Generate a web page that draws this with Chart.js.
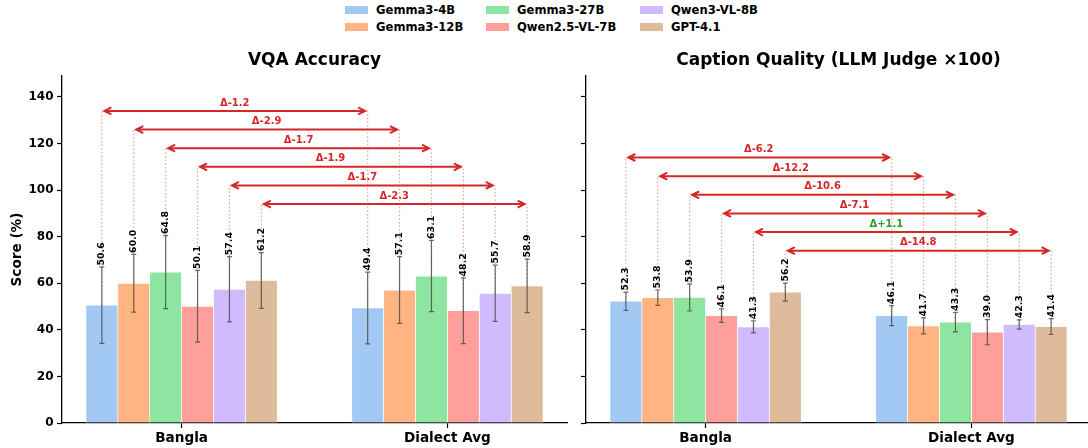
<!DOCTYPE html>
<html>
<head>
<meta charset="utf-8">
<script src="https://cdn.jsdelivr.net/npm/chart.js@4.4.1/dist/chart.umd.min.js"></script>
<style>
  body { margin: 0; background: #fff; width: 1088px; height: 448px; overflow: hidden; position: relative; font-family: "DejaVu Sans", sans-serif; }
  .item { position: absolute; display: flex; align-items: center; font-weight: bold; font-size: 11.6px; color: #000; white-space: nowrap; }
  .sw { width: 23px; height: 8px; margin-right: 8px; }
  .panel { position: absolute; top: 0; height: 448px; }
</style>
</head>
<body>
<div id="legend"></div>
<div class="panel" style="left:0;width:575px"><canvas id="chart-vqa"></canvas></div>
<div class="panel" style="left:575px;width:516px"><canvas id="chart-caption"></canvas></div>

<script>
const models = ['Gemma3-4B', 'Gemma3-12B', 'Gemma3-27B', 'Qwen2.5-VL-7B', 'Qwen3-VL-8B', 'GPT-4.1'];
const groups = ['Bangla', 'Dialect Avg'];
const colors = ['#a1c9f4', '#ffb482', '#8de5a1', '#ff9f9b', '#d0bbff', '#debb9b'];

// VQA accuracy
const vqaBangla = [50.6, 60.0, 64.8, 50.1, 57.4, 61.2];
const vqaDialect = [49.4, 57.1, 63.1, 48.2, 55.7, 58.9];
const vqaBanglaErr = [16.4, 12.4, 15.7, 15.4, 14.0, 12.0];
const vqaDialectErr = [15.4, 14.3, 15.3, 14.1, 12.1, 11.5];
const vqaDeltas = ['Δ-1.2', 'Δ-2.9', 'Δ-1.7', 'Δ-1.9', 'Δ-1.7', 'Δ-2.3'];
const vqaArrowLevels = [134, 126, 118, 110, 102, 94];

// Caption quality (LLM judge x100)
const capBangla = [52.3, 53.8, 53.9, 46.1, 41.3, 56.2];
const capDialect = [46.1, 41.7, 43.3, 39.0, 42.3, 41.4];
const capBanglaErr = [3.9, 3.3, 5.8, 2.9, 2.6, 3.9];
const capDialectErr = [4.3, 3.4, 4.2, 5.4, 2.0, 3.4];
const capDeltas = ['Δ-6.2', 'Δ-12.2', 'Δ-10.6', 'Δ-7.1', 'Δ+1.1', 'Δ-14.8'];
const capArrowLevels = [114, 106, 98, 90, 82, 74];

const yTicks = [0, 20, 40, 60, 80, 100, 120, 140];
const BAR_W = 0.12;
const FONT = '"DejaVu Sans", sans-serif';

// legend (3 columns, filled column by column)
const legendCols = [345, 486, 640];
const legendRows = [3, 20];
const legend = document.getElementById('legend');
models.forEach((m, i) => {
  const el = document.createElement('div');
  el.className = 'item';
  el.style.left = legendCols[Math.floor(i / 2)] + 'px';
  el.style.top = legendRows[i % 2] + 'px';
  el.innerHTML = `<span class="sw" style="background:${colors[i]}"></span>${m}`;
  legend.appendChild(el);
});

function barX(g, i) {
  return g + (i - 2.5) * BAR_W;
}

function annotations(title, bangla, dialect, banglaErr, dialectErr, deltas, levels) {
  return {
    id: 'annotations',
    afterDatasetsDraw(chart) {
      const { ctx, chartArea } = chart;
      const x = chart.scales.x, y = chart.scales.y;
      ctx.save();

      // title
      ctx.fillStyle = '#000';
      ctx.font = `bold 17px ${FONT}`;
      ctx.textAlign = 'center';
      ctx.textBaseline = 'middle';
      ctx.fillText(title, (chartArea.left + chartArea.right) / 2, 61);

      models.forEach((m, i) => {
        const vals = [bangla[i], dialect[i]];
        const errs = [banglaErr[i], dialectErr[i]];
        const xs = [x.getPixelForValue(barX(0, i)), x.getPixelForValue(barX(1, i))];
        const yl = y.getPixelForValue(levels[i]);

        vals.forEach((v, g) => {
          const xc = xs[g];
          // dotted guide
          ctx.strokeStyle = 'rgba(214,39,40,0.45)';
          ctx.lineWidth = 1.2;
          ctx.setLineDash([1.5, 2.2]);
          ctx.beginPath();
          ctx.moveTo(xc, y.getPixelForValue(v));
          ctx.lineTo(xc, yl);
          ctx.stroke();
          ctx.setLineDash([]);

          // error bar
          const yTop = y.getPixelForValue(v + errs[g]);
          const yBot = y.getPixelForValue(Math.max(0, v - errs[g]));
          ctx.strokeStyle = 'rgba(70,70,70,0.8)';
          ctx.lineWidth = 1.2;
          ctx.beginPath();
          ctx.moveTo(xc, yTop); ctx.lineTo(xc, yBot);
          ctx.moveTo(xc - 2.5, yTop); ctx.lineTo(xc + 2.5, yTop);
          ctx.moveTo(xc - 2.5, yBot); ctx.lineTo(xc + 2.5, yBot);
          ctx.stroke();

          // value label
          ctx.save();
          ctx.translate(xc, yTop - 1.5);
          ctx.rotate(-Math.PI / 2);
          ctx.fillStyle = '#000';
          ctx.font = `bold 9.4px ${FONT}`;
          ctx.textAlign = 'left';
          ctx.textBaseline = 'middle';
          ctx.fillText(v.toFixed(1), 0, 0);
          ctx.restore();
        });

        // double-headed arrow
        const x1 = xs[0] + 2.5, x2 = xs[1] - 2.5;
        ctx.strokeStyle = '#d62728';
        ctx.lineWidth = 2;
        ctx.beginPath();
        ctx.moveTo(x1, yl); ctx.lineTo(x2, yl);
        ctx.moveTo(x1 + 7, yl - 3.5); ctx.lineTo(x1, yl); ctx.lineTo(x1 + 7, yl + 3.5);
        ctx.moveTo(x2 - 7, yl - 3.5); ctx.lineTo(x2, yl); ctx.lineTo(x2 - 7, yl + 3.5);
        ctx.stroke();

        ctx.fillStyle = deltas[i].includes('+') ? '#2ca02c' : '#d62728';
        ctx.font = `bold 10px ${FONT}`;
        ctx.textAlign = 'center';
        ctx.textBaseline = 'middle';
        ctx.fillText(deltas[i], (xs[0] + xs[1]) / 2, yl - 8);
      });
      ctx.restore();
    }
  };
}

function renderPanel(id, title, bangla, dialect, banglaErr, dialectErr, deltas, levels, showYLabels) {
  const datasets = models.map((m, i) => ({
    label: m,
    data: [
      { x: barX(0, i), y: bangla[i] },
      { x: barX(1, i), y: dialect[i] }
    ],
    backgroundColor: colors[i],
    borderColor: '#ffffff',
    borderWidth: 0.7,
    grouped: false,
    categoryPercentage: 1,
    barPercentage: 1
  }));

  return new Chart(document.getElementById(id), {
    type: 'bar',
    data: { datasets },
    options: {
      responsive: true,
      maintainAspectRatio: false,
      animation: false,
      events: [],
      layout: { padding: { top: 76, right: showYLabels ? 8 : 0, left: 0, bottom: 0 } },
      plugins: { legend: { display: false }, tooltip: { enabled: false } },
      scales: {
        x: {
          type: 'linear',
          min: -0.45,
          max: 1.45,
          offset: false,
          afterBuildTicks: (s) => { s.ticks = [{ value: 0 }, { value: 1 }]; },
          afterFit: (s) => { s.height = 25; },
          grid: { offset: false, drawOnChartArea: false, drawTicks: true, tickLength: 5, tickColor: '#000', tickWidth: 1.2 },
          border: { display: true, color: '#000', width: 1.3 },
          ticks: {
            padding: 2,
            color: '#000',
            font: { family: FONT, size: 13.6, weight: 'bold' },
            callback: (v, idx) => groups[idx]
          }
        },
        y: {
          min: 0,
          max: 149,
          afterBuildTicks: (s) => { s.ticks = yTicks.map(v => ({ value: v })); },
          afterFit: (s) => { s.width = showYLabels ? 62 : 11; },
          grid: { drawOnChartArea: false, drawTicks: true, tickLength: 5, tickColor: '#000', tickWidth: 1.2 },
          border: { display: true, color: '#000', width: 1.3 },
          ticks: {
            padding: 3.5,
            color: '#000',
            font: { family: FONT, size: 12, weight: 'bold' },
            callback: (v) => showYLabels ? v : ''
          },
          title: {
            display: showYLabels,
            text: 'Score (%)',
            color: '#000',
            font: { family: FONT, size: 13.6, weight: 'bold' },
            padding: { top: 9, bottom: 0 }
          }
        }
      }
    },
    plugins: [annotations(title, bangla, dialect, banglaErr, dialectErr, deltas, levels)]
  });
}

renderPanel('chart-vqa', 'VQA Accuracy', vqaBangla, vqaDialect, vqaBanglaErr, vqaDialectErr, vqaDeltas, vqaArrowLevels, true);
renderPanel('chart-caption', 'Caption Quality (LLM Judge ×100)', capBangla, capDialect, capBanglaErr, capDialectErr, capDeltas, capArrowLevels, false);
</script>
</body>
</html>
